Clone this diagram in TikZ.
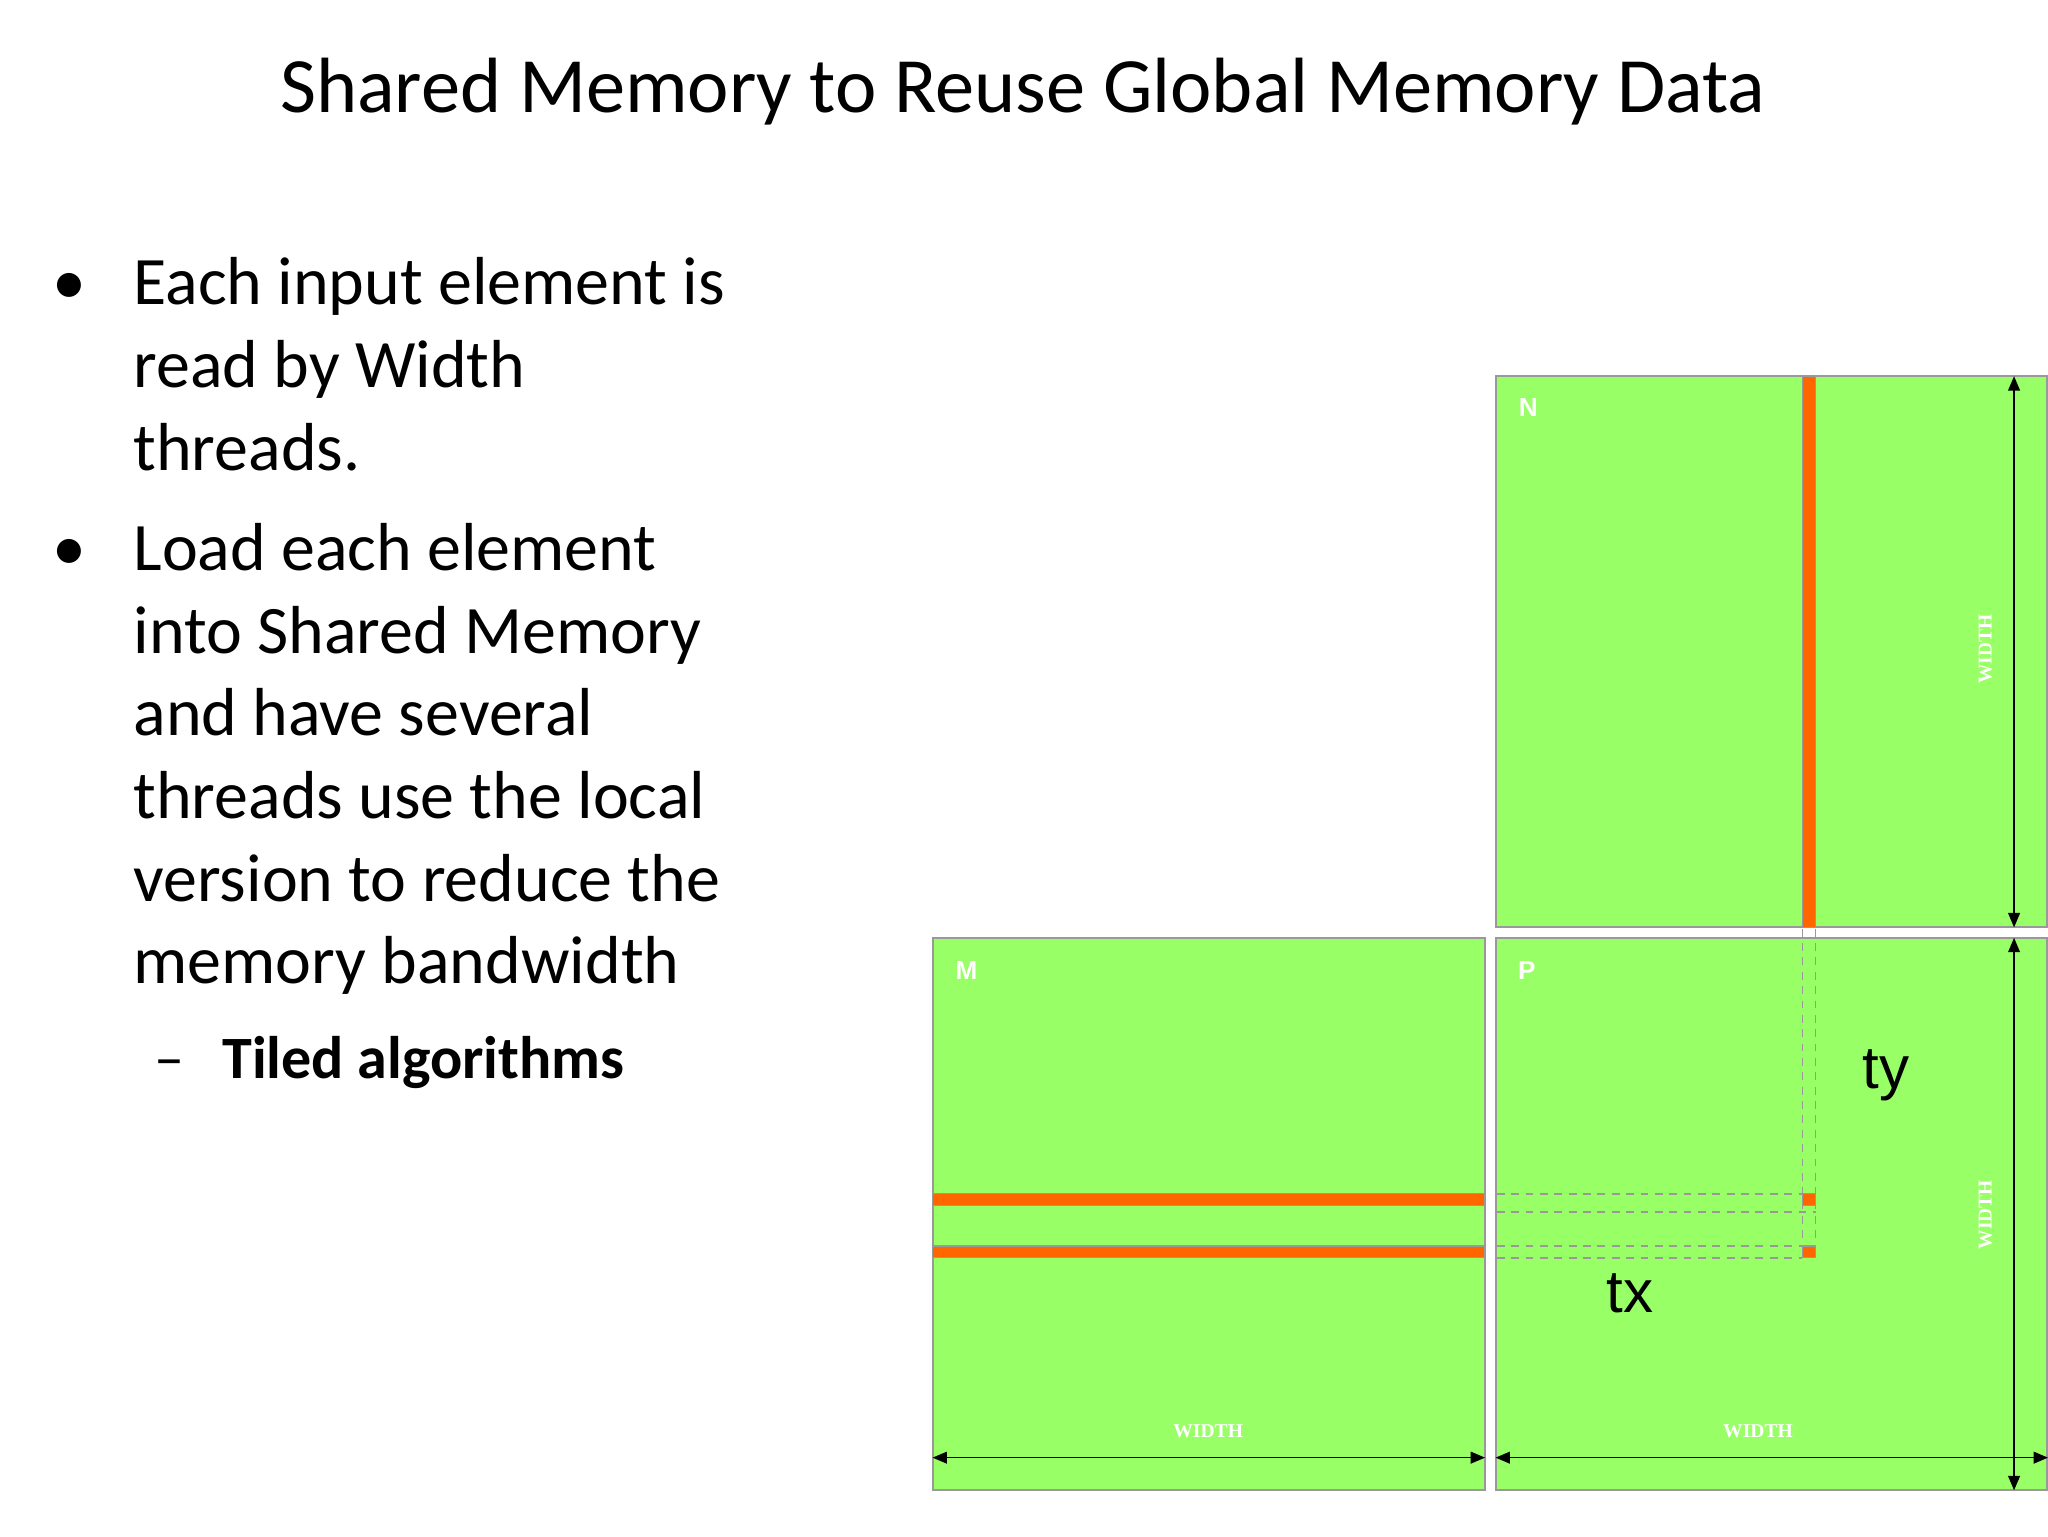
\documentclass[tikz,border=0pt]{standalone}
\usepackage{fontspec}
\setmainfont{Carlito}
\newfontfamily\arialf{Liberation Sans}
\newfontfamily\timesf{Liberation Serif}
\usetikzlibrary{arrows.meta}
\definecolor{mgreen}{HTML}{99FF66}
\definecolor{morange}{HTML}{FF6600}
\definecolor{mgray}{HTML}{999999}
\tikzset{
  mat/.style={fill=mgreen,draw=mgray,line width=1.5pt},
  bar/.style={fill=morange,draw=mgray,line width=1pt},
  dsh/.style={draw=mgray,line width=1.3pt,dash pattern=on 6pt off 5pt},
  dim/.style={line width=1.2pt,{Triangle[length=11pt,width=9pt]}-{Triangle[length=11pt,width=9pt]}},
  wl/.style={text=white,font=\timesf\bfseries\fontsize{15}{15}\selectfont,inner sep=0pt},
  ml/.style={text=white,font=\arialf\bfseries\fontsize{20}{20}\selectfont,inner sep=0pt},
  body/.style={anchor=base west,inner sep=0pt,font=\fontsize{52}{52}\selectfont},
}
\begin{document}
\begin{tikzpicture}[x=1pt,y=-1pt]
\useasboundingbox (0,0) rectangle (1568,1176);
\node[font=\fontsize{60}{60}\selectfont,inner sep=0pt] (title) at (783,70) {Shared Memory to Reuse Global Memory Data};
% bullets
\node[body] (b1) at (40,233) {•};
\node[body] (t1) at (102,233) {Each input element is};
\node[body] (t2) at (102,297) {read by Width};
\node[body] (t3) at (102,360) {threads.};
\node[body] (b2) at (40,437) {•};
\node[body] (t4) at (102,437) {Load each element};
\node[body] (t5) at (102,500) {into Shared Memory};
\node[body] (t6) at (102,563) {and have several};
\node[body] (t7) at (102,627) {threads use the local};
\node[body] (t8) at (102,690) {version to reduce the};
\node[body] (t9) at (102,753) {memory bandwidth};
\node[body,font=\fontsize{46}{46}\selectfont] (d1) at (118,826) {–};
\node[body,font=\bfseries\fontsize{46}{46}\selectfont] (t10) at (170,826) {Tiled algorithms};
% matrices
\path[mat] (1145,288) rectangle (1567,710);
\path[mat] (714,718) rectangle (1137,1141);
\path[mat] (1145,718) rectangle (1567,1141);
% orange bars
\path[bar] (1380,288) rectangle (1390,710);
\path[bar] (714,914) rectangle (1137,923);
\path[bar] (714,954) rectangle (1137,963);
\path[bar] (1380,914) rectangle (1390,923);
\path[bar] (1380,954) rectangle (1390,963);
% dashed guides
\draw[dsh] (1380,711) -- (1380,963);
\draw[dsh] (1390,711) -- (1390,963);
\draw[dsh] (1146,914) -- (1380,914);
\draw[dsh] (1146,928) -- (1390,928);
\draw[dsh] (1146,954) -- (1380,954);
\draw[dsh] (1146,963) -- (1380,963);
% dimension arrows
\coordinate (na) at (1542,288); \coordinate (nb) at (1542,710);
\coordinate (pa) at (1542,718); \coordinate (pb) at (1542,1141);
\coordinate (ma) at (714,1116); \coordinate (mb) at (1137,1116);
\coordinate (qa) at (1145,1116); \coordinate (qb) at (1568,1116);
\draw[dim] (na) -- (nb);
\draw[dim] (pa) -- (pb);
\draw[dim] (ma) -- (mb);
\draw[dim] (qa) -- (qb);
\node[wl,rotate=90] (w1) at (1520,497) {WIDTH};
\node[wl,rotate=90] (w2) at (1520,930) {WIDTH};
\node[wl] (w3) at (925,1096) {WIDTH};
\node[wl] (w4) at (1346,1096) {WIDTH};
\node[ml] (N) at (1170,312) {N};
\node[ml] (M) at (740,743) {M};
\node[ml] (P) at (1169,743) {P};
\node[font=\arialf\fontsize{46}{46}\selectfont,inner sep=0pt] (ty) at (1444,823) {ty};
\node[font=\arialf\fontsize{46}{46}\selectfont,inner sep=0pt] (tx) at (1248,990) {tx};
\end{tikzpicture}
\end{document}
